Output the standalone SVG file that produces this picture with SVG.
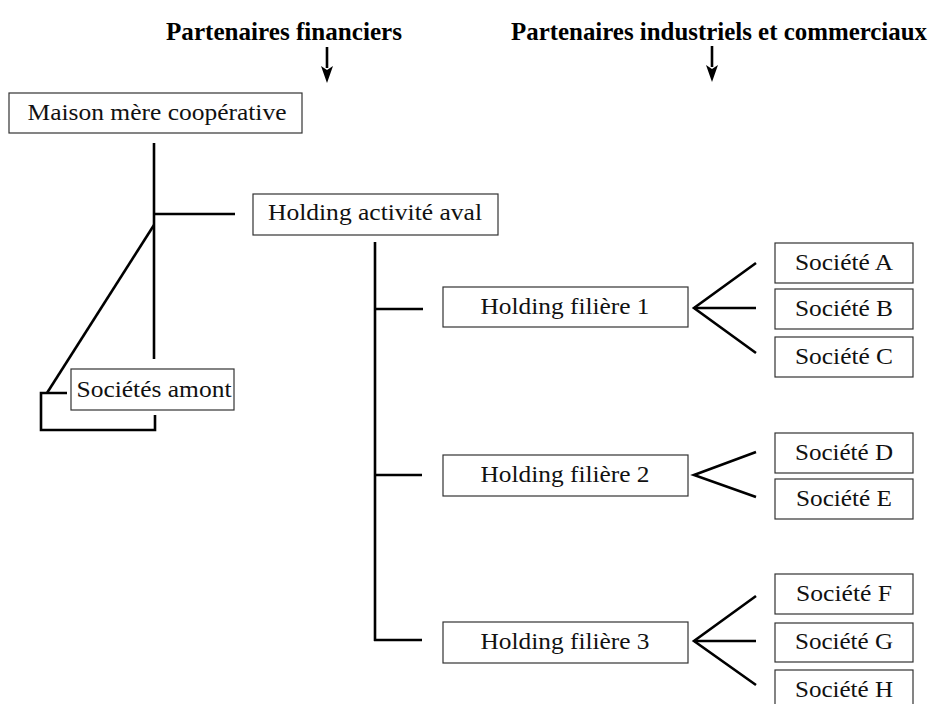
<svg xmlns="http://www.w3.org/2000/svg" width="932" height="704" viewBox="0 0 932 704">
<defs>
<style>
.box{fill:#fff;stroke:#333;stroke-width:1.2}
.t{font-family:"Liberation Serif","DejaVu Serif",serif;font-size:24px;fill:#111;text-anchor:middle}
.h{font-family:"Liberation Serif","DejaVu Serif",serif;font-size:25px;font-weight:bold;fill:#000}
.c{stroke:#000;stroke-width:2.6;fill:none}
</style>
</defs>
<rect width="932" height="704" fill="#fff"/>
<g id="headers">
<text class="h" x="166" y="40" textLength="236" lengthAdjust="spacingAndGlyphs">Partenaires financiers</text>
<text class="h" x="511" y="40" textLength="416" lengthAdjust="spacingAndGlyphs">Partenaires industriels et commerciaux</text>
</g>
<g id="connectors">
<line class="c" x1="327" y1="47" x2="327" y2="68"/>
<path d="M321,66 L327,83 L333,66 L327,70 Z" fill="#000"/>
<line class="c" x1="712" y1="46" x2="712" y2="67"/>
<path d="M706,65 L712,82 L718,65 L712,69 Z" fill="#000"/>
<line class="c" x1="154" y1="143" x2="154" y2="359"/>
<line class="c" x1="154" y1="214" x2="235" y2="214"/>
<line class="c" x1="154" y1="225" x2="47" y2="393"/>
<polyline class="c" points="67,393 41,393 41,430 155,430 155,415"/>
<line class="c" x1="375" y1="242" x2="375" y2="641"/>
<line class="c" x1="374" y1="309" x2="423" y2="309"/>
<line class="c" x1="374" y1="475" x2="422" y2="475"/>
<line class="c" x1="374" y1="640" x2="422" y2="640"/>
<polyline class="c" points="756,263 694,308 756,353"/>
<line class="c" x1="694" y1="308" x2="756" y2="308"/>
<polyline class="c" points="756,452 694,475 756,497"/>
<polyline class="c" points="756,596 694,641 756,685"/>
<line class="c" x1="694" y1="641" x2="756" y2="641"/>
</g>
<g id="maison"><rect class="box" x="9" y="93" width="293" height="40"/><text class="t" x="157" y="120" textLength="259" lengthAdjust="spacingAndGlyphs">Maison mère coopérative</text></g>
<g id="aval"><rect class="box" x="253" y="194" width="245" height="41"/><text class="t" x="375" y="220" textLength="214" lengthAdjust="spacingAndGlyphs">Holding activité aval</text></g>
<g id="amont"><rect class="box" x="71" y="369" width="163" height="41"/><text class="t" x="154" y="397" textLength="155" lengthAdjust="spacingAndGlyphs">Sociétés amont</text></g>
<g id="filiere1"><rect class="box" x="443" y="287" width="245" height="40"/><text class="t" x="565" y="314" textLength="169" lengthAdjust="spacingAndGlyphs">Holding filière 1</text></g>
<g id="filiere2"><rect class="box" x="443" y="455" width="245" height="41"/><text class="t" x="565" y="482" textLength="169" lengthAdjust="spacingAndGlyphs">Holding filière 2</text></g>
<g id="filiere3"><rect class="box" x="443" y="622" width="245" height="41"/><text class="t" x="565" y="649" textLength="169" lengthAdjust="spacingAndGlyphs">Holding filière 3</text></g>
<g id="societeA"><rect class="box" x="775" y="243" width="138" height="40"/><text class="t" x="844" y="270" textLength="98" lengthAdjust="spacingAndGlyphs">Société A</text></g>
<g id="societeB"><rect class="box" x="775" y="289" width="138" height="40"/><text class="t" x="844" y="316" textLength="98" lengthAdjust="spacingAndGlyphs">Société B</text></g>
<g id="societeC"><rect class="box" x="775" y="337" width="138" height="40"/><text class="t" x="844" y="364" textLength="98" lengthAdjust="spacingAndGlyphs">Société C</text></g>
<g id="societeD"><rect class="box" x="775" y="433" width="138" height="40"/><text class="t" x="844" y="460" textLength="98" lengthAdjust="spacingAndGlyphs">Société D</text></g>
<g id="societeE"><rect class="box" x="775" y="479" width="138" height="40"/><text class="t" x="844" y="506" textLength="96" lengthAdjust="spacingAndGlyphs">Société E</text></g>
<g id="societeF"><rect class="box" x="775" y="574" width="138" height="40"/><text class="t" x="844" y="601" textLength="96" lengthAdjust="spacingAndGlyphs">Société F</text></g>
<g id="societeG"><rect class="box" x="775" y="623" width="138" height="39"/><text class="t" x="844" y="649" textLength="98" lengthAdjust="spacingAndGlyphs">Société G</text></g>
<g id="societeH"><rect class="box" x="775" y="670" width="138" height="40"/><text class="t" x="844" y="697" textLength="98" lengthAdjust="spacingAndGlyphs">Société H</text></g>
</svg>
